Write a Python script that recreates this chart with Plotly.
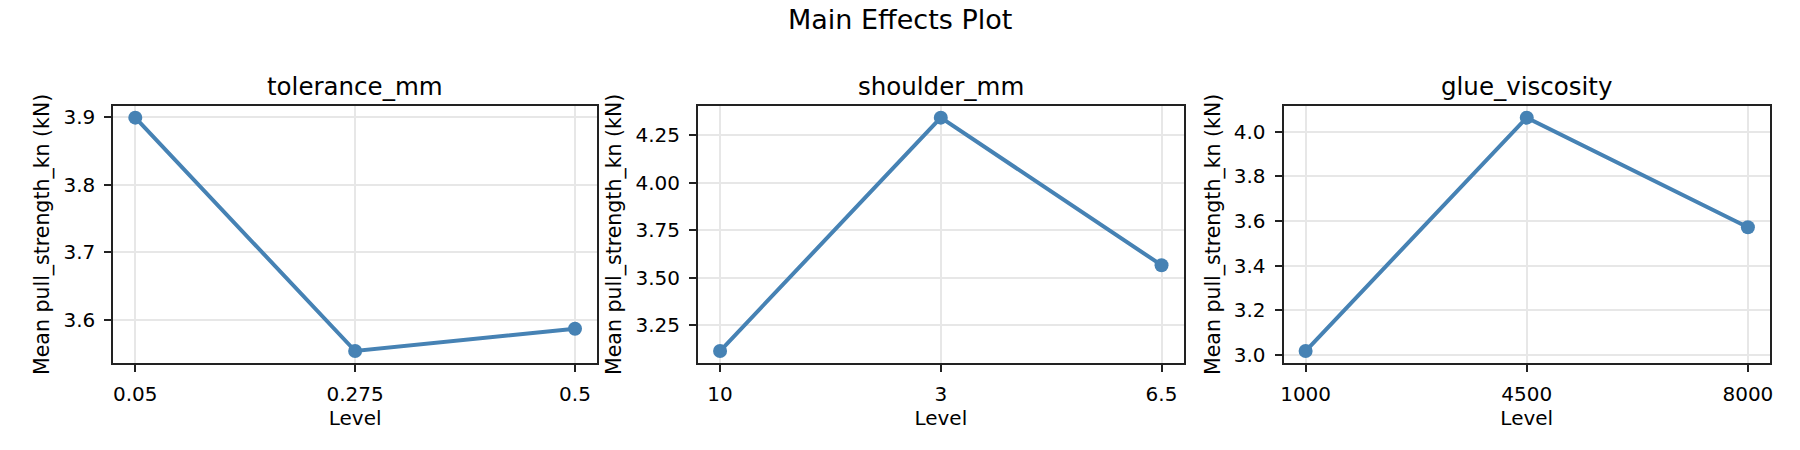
import plotly.graph_objects as go

factors = ["tolerance_mm", "shoulder_mm", "glue_viscosity"]
tolerance_levels = ["0.05", "0.275", "0.5"]
tolerance_means = [3.899, 3.554, 3.587]
shoulder_levels = ["10", "3", "6.5"]
shoulder_means = [3.114, 4.343, 3.566]
glue_levels = ["1000", "4500", "8000"]
glue_means = [3.016, 4.064, 3.572]

W, H = 1800, 450
FONT = "DejaVu Sans"
LINE_COLOR = "#4682B4"

x_domains = [(113.3, 597), (698, 1183.6), (1283.5, 1770)]
y_domain = [1 - 362.7 / H, 1 - 106 / H]
y_ticks = [dict(dtick=0.1, tickformat=".1f"),
           dict(dtick=0.25, tickformat=".2f"),
           dict(dtick=0.2, tickformat=".1f")]


def y_range(values):
    lo, hi = min(values), max(values)
    pad = 0.05 * (hi - lo)
    return [lo - pad, hi + pad]


fig = go.Figure()
panels = [(tolerance_levels, tolerance_means),
          (shoulder_levels, shoulder_means),
          (glue_levels, glue_means)]

for i, (levels, means) in enumerate(panels):
    n = "" if i == 0 else str(i + 1)
    fig.add_trace(go.Scatter(
        x=levels, y=means, mode="lines+markers",
        line=dict(color=LINE_COLOR, width=4),
        marker=dict(color=LINE_COLOR, size=14),
        xaxis="x" + n, yaxis="y" + n, showlegend=False,
    ))
    axis_common = dict(
        showline=True, mirror=True, linecolor="#222222", linewidth=2,
        ticks="outside", ticklen=7, tickwidth=1.8, tickcolor="#222222",
        showgrid=True, gridcolor="#e7e7e7", gridwidth=1.6,
        zeroline=False, automargin=False, ticklabelstandoff=5,
        tickfont=dict(family=FONT, size=20, color="black"),
    )
    fig.layout["xaxis" + n] = dict(
        axis_common, type="category", range=[-0.1, 2.1],
        domain=[x_domains[i][0] / W, x_domains[i][1] / W],
        anchor="y" + n,
        title=dict(text="Level", standoff=6, font=dict(family=FONT, size=20, color="black")),
    )
    fig.layout["yaxis" + n] = dict(
        axis_common, range=y_range(means), domain=y_domain,
        anchor="x" + n, **y_ticks[i],
        title=dict(text="Mean pull_strength_kn (kN)", standoff=8,
                   font=dict(family=FONT, size=20.5, color="black")),
    )
    fig.add_annotation(
        text=factors[i], xref="paper", yref="paper",
        x=(x_domains[i][0] + x_domains[i][1]) / 2 / W, y=1 - 86 / H,
        xanchor="center", yanchor="middle", showarrow=False,
        font=dict(family=FONT, size=24.5, color="black"),
    )

fig.add_annotation(
    text="Main Effects Plot", xref="paper", yref="paper",
    x=0.5, y=1 - 19.5 / H, xanchor="center", yanchor="middle", showarrow=False,
    font=dict(family=FONT, size=27, color="black"),
)

fig.update_layout(
    width=W, height=H,
    margin=dict(l=0, r=0, t=0, b=0),
    paper_bgcolor="white", plot_bgcolor="white",
    font=dict(family=FONT, color="black"),
)

# page body has a default margin, drop it so the figure fills the window
fig.write_html("out.html", config={"displayModeBar": False},
               post_script="document.body.style.margin='0';document.body.style.overflow='hidden';")
